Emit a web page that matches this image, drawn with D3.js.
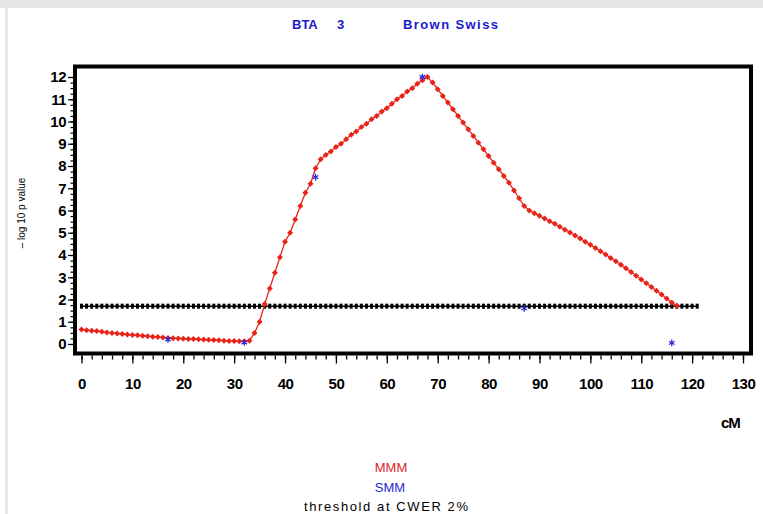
<!DOCTYPE html>
<html>
<head>
<meta charset="utf-8">
<script src="https://cdn.jsdelivr.net/npm/d3@7"></script>
<style>
body{margin:0;background:#fff;}
svg{display:block;font-family:"Liberation Sans",Arial,sans-serif;}
</style>
</head>
<body>
<div id="chart"></div>
<script>
var width=763, height=514;

// MMM: -log10 p value at every cM from 0 to 117
var mmmPos=[];
for(i=0;i<=117;i++) mmmPos.push(i);
var mmmVal=[
 0.65,0.62,0.60,0.58,0.55,0.52,0.50,0.47,0.45,0.43,
 0.41,0.39,0.37,0.35,0.33,0.31,0.29,0.27,0.26,0.25,
 0.24,0.23,0.22,0.21,0.20,0.19,0.18,0.17,0.15,0.14,
 0.13,0.12,0.12,0.15,0.50,1.00,1.80,2.50,3.20,3.90,
 4.60,5.00,5.60,6.20,6.80,7.20,7.90,8.30,8.50,8.65,
 8.85,9.00,9.20,9.40,9.55,9.75,9.90,10.10,10.25,10.45,
 10.60,10.80,11.00,11.15,11.35,11.50,11.70,11.85,12.00,11.75,
 11.45,11.15,10.85,10.55,10.25,9.95,9.65,9.35,9.05,8.75,
 8.45,8.15,7.85,7.55,7.25,6.90,6.55,6.20,6.00,5.88,
 5.76,5.64,5.52,5.40,5.27,5.14,5.01,4.88,4.74,4.60,
 4.46,4.32,4.17,4.02,3.87,3.72,3.56,3.40,3.24,3.07,
 2.90,2.73,2.56,2.39,2.22,2.04,1.86,1.72
];

// SMM single marker results
var smmPos=[17, 32, 46, 67, 87, 116];
var smmVal=[0.2, 0.07, 7.5, 12.0, 1.6, 0.05];

// threshold at CWER 2%
var thrVal=1.7;
var thrPos=[];
for(i=0;i<=121;i++) thrPos.push(i);

var xTicks=[0,10,20,30,40,50,60,70,80,90,100,110,120,130];
var yTicks=[0,1,2,3,4,5,6,7,8,9,10,11,12];

var svg=d3.select('#chart').append('svg')
    .attr('width', width)
    .attr('height', height);

// light gray window border
svg.append('rect').attr('x',0).attr('y',0).attr('width',width).attr('height',8).style('fill','#e6e6e6');
svg.append('rect').attr('x',5).attr('y',0).attr('width',3).attr('height',height).style('fill','#e6e6e6');

var x=d3.scaleLinear().domain([0,130]).range([81.5,743]);
var y=d3.scaleLinear().domain([0,12]).range([344,77]);

// frame
svg.append('rect')
    .attr('x',75).attr('y',66.5)
    .attr('width',676).attr('height',287)
    .style('fill','none').style('stroke','#000').style('stroke-width',4);

// x axis: minor then major ticks
var xMinor=d3.range(0,131,2);
var gx=svg.append('g').attr('transform','translate(0,355.5)');
gx.call(d3.axisBottom(x).tickValues(xMinor).tickSize(4).tickFormat(''));
gx.append('g').call(d3.axisBottom(x).tickValues(xTicks).tickSize(8).tickFormat(d3.format('d')));
gx.selectAll('.domain').remove();
gx.selectAll('line').style('stroke','#000').style('stroke-width',1.3);
gx.selectAll('text')
    .attr('y',23)
    .style('font-size','15px').style('font-weight','bold').style('fill','#000')
    .style('letter-spacing','-0.5px');

// y axis
var yMinor=d3.range(0,12.01,0.25);
var gy=svg.append('g').attr('transform','translate(73,0)');
gy.call(d3.axisLeft(y).tickValues(yMinor).tickSize(2.5).tickFormat(''));
gy.append('g').call(d3.axisLeft(y).tickValues(yTicks).tickSize(5).tickFormat(d3.format('d')));
gy.selectAll('.domain').remove();
gy.selectAll('line').style('stroke','#000').style('stroke-width',1.2);
gy.selectAll('text')
    .attr('x',-7)
    .style('font-size','15px').style('font-weight','bold').style('fill','#000')
    .style('letter-spacing','-0.5px');

// threshold line
var thrLine=d3.line().x(function(d){return x(d);}).y(function(){return y(thrVal);});
svg.append('path').datum(thrPos).attr('d',thrLine)
    .style('fill','none').style('stroke','#000').style('stroke-width',1.5);
svg.selectAll('.thr').data(thrPos).enter().append('rect')
    .attr('class','thr')
    .attr('x',function(d){return x(d)-1.5;})
    .attr('y',y(thrVal)-2.5)
    .attr('width',3).attr('height',5)
    .style('fill','#000');

// MMM line with markers
var mmm=mmmPos.map(function(d,i){return [d,mmmVal[i]];});
var line=d3.line().x(function(d){return x(d[0]);}).y(function(d){return y(d[1]);});
svg.append('path').datum(mmm).attr('d',line)
    .style('fill','none').style('stroke','#e8241a').style('stroke-width',1.3);
svg.selectAll('.mmm').data(mmm).enter().append('path')
    .attr('class','mmm')
    .attr('transform',function(d){return 'translate('+x(d[0])+','+y(d[1])+') rotate(45)';})
    .attr('d',d3.symbol().type(d3.symbolSquare).size(18))
    .style('fill','#e8241a');

// SMM stars
svg.selectAll('.smm').data(smmPos).enter().append('path')
    .attr('class','smm')
    .attr('transform',function(d,i){return 'translate('+x(d)+','+y(smmVal[i])+')';})
    .attr('d',d3.symbol().type(d3.symbolAsterisk).size(30))
    .style('fill','none').style('stroke','#2a2ad8').style('stroke-width',1.3);

// title
var title=svg.append('g').style('font-size','13px').style('font-weight','bold').style('fill','#1a1ac8');
title.append('text').attr('x',292).attr('y',29).text('BTA');
title.append('text').attr('x',337).attr('y',29).text('3');
title.append('text').attr('x',403).attr('y',29).attr('textLength',95).text('Brown Swiss');

// axis titles
svg.append('text')
    .attr('transform','translate(25,213) rotate(-90)')
    .attr('text-anchor','middle')
    .style('font-size','10px').style('fill','#000')
    .text('\u2013 log 10 p value');
svg.append('text')
    .attr('x',721).attr('y',428)
    .style('font-size','15px').style('font-weight','bold').style('letter-spacing','-1px')
    .text('cM');

// legend
var leg=svg.append('g').attr('text-anchor','middle').style('font-size','13px');
leg.append('text').attr('x',391).attr('y',472).style('fill','#d9262b').text('MMM');
leg.append('text').attr('x',390).attr('y',492).style('fill','#2a2ad0').text('SMM');
leg.append('text').attr('x',386).attr('y',511).style('fill','#000').attr('textLength',164).text('threshold at CWER 2%');
</script>
</body>
</html>
